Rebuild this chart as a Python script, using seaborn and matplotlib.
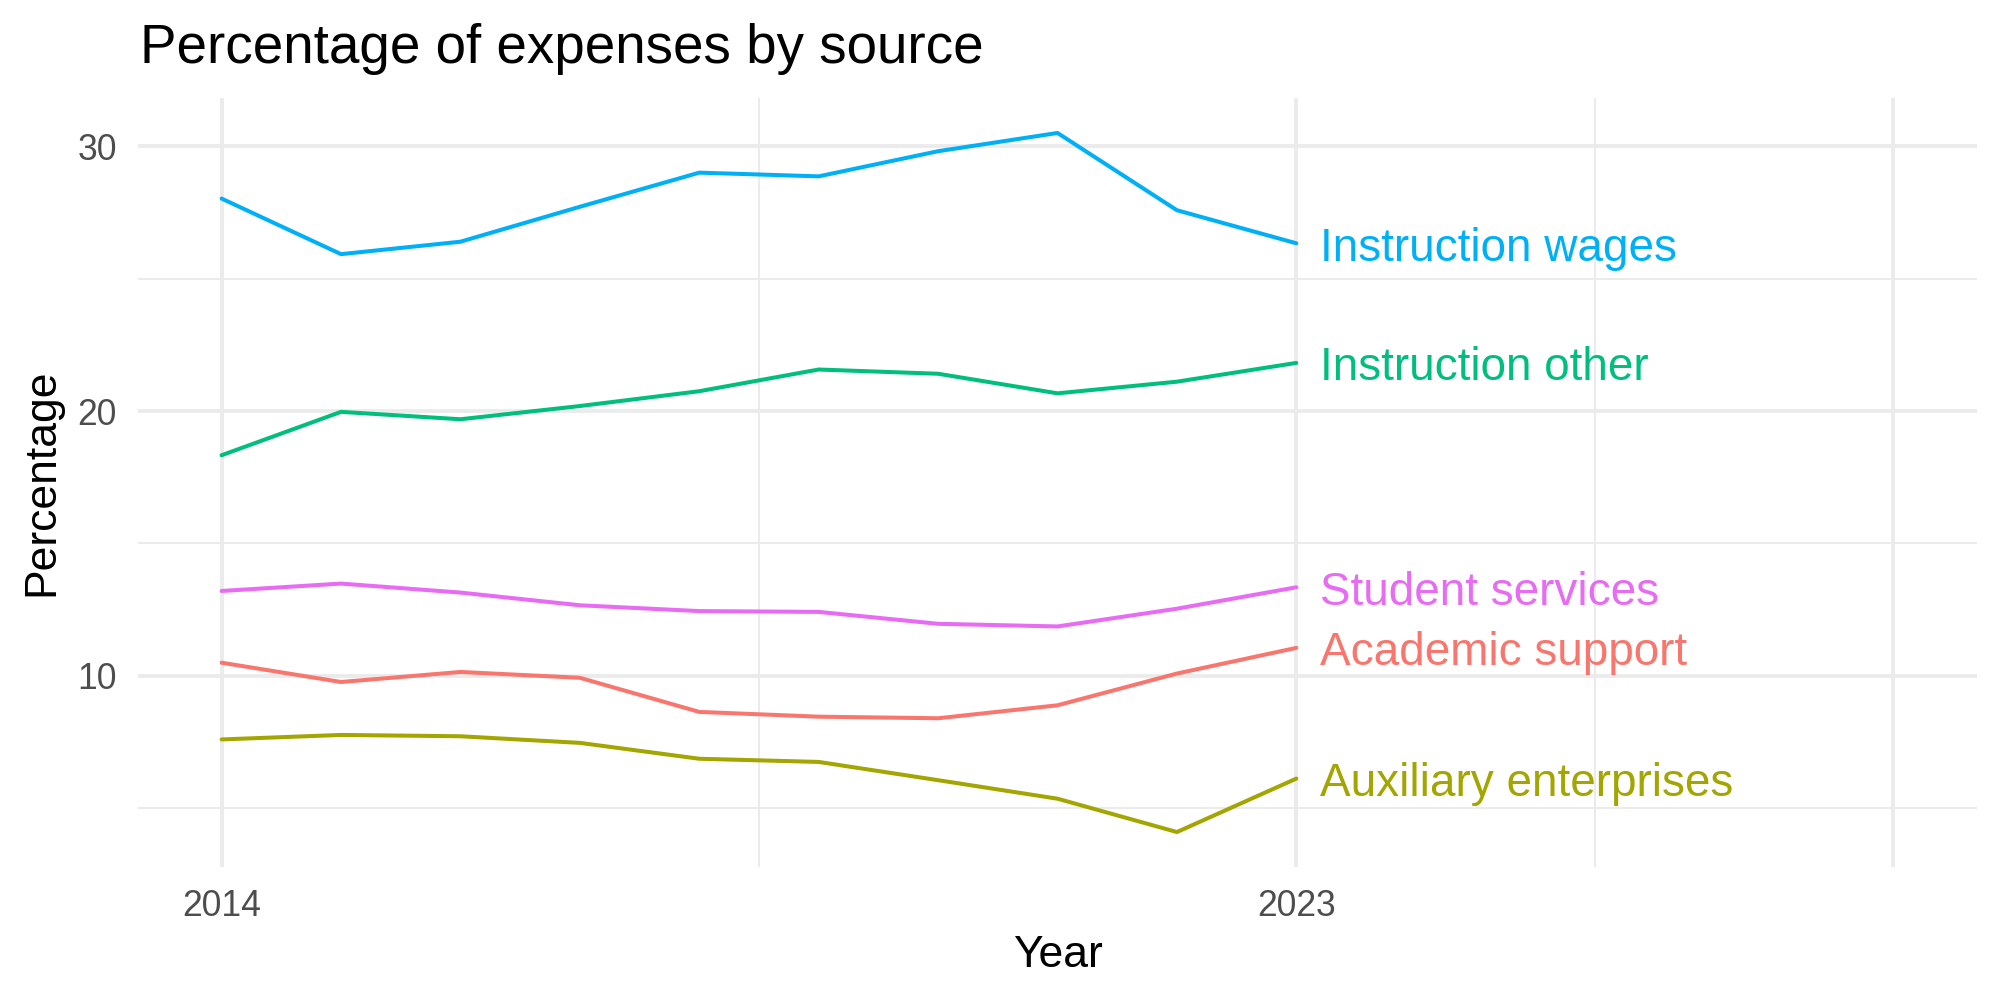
import numpy as np
import pandas as pd
import matplotlib
matplotlib.use("Agg")
import matplotlib.pyplot as plt
import matplotlib.transforms as mtransforms
import seaborn as sns

years = [2014, 2015, 2016, 2017, 2018, 2019, 2020, 2021, 2022, 2023]
instruction_wages = [28.03, 25.93, 26.40, 27.72, 29.01, 28.87, 29.82, 30.51, 27.59, 26.34]
instruction_other = [18.33, 19.97, 19.69, 20.19, 20.75, 21.57, 21.41, 20.67, 21.11, 21.82]
student_services = [13.20, 13.48, 13.14, 12.66, 12.44, 12.41, 11.96, 11.86, 12.53, 13.34]
academic_support = [10.49, 9.76, 10.14, 9.92, 8.63, 8.45, 8.39, 8.88, 10.08, 11.05]
auxiliary_enterprises = [7.59, 7.76, 7.71, 7.46, 6.86, 6.74, 6.05, 5.35, 4.09, 6.11]

categories = ["Academic support", "Auxiliary enterprises", "Instruction other",
              "Instruction wages", "Student services"]
colors = ["#F8766D", "#A3A500", "#00BF7D", "#00B0F6", "#E76BF3"]
series = {
    "Academic support": academic_support,
    "Auxiliary enterprises": auxiliary_enterprises,
    "Instruction other": instruction_other,
    "Instruction wages": instruction_wages,
    "Student services": student_services,
}
x_major = [2014, 2023, 2028]
x_labels = ["2014", "2023", ""]
x_minor = [2018.5, 2025.5]
y_major = [10, 20, 30]
y_minor = [5, 15, 25]

df = pd.DataFrame(
    [(y, v, k) for k in categories for y, v in zip(years, series[k])],
    columns=["Year", "Percentage", "Source"],
)

sns.set_theme(style="white")
plt.rcParams["font.family"] = ["Liberation Sans", "DejaVu Sans"]

fig = plt.figure(figsize=(10, 5), dpi=200)
ax = fig.add_axes([138 / 2000, 1 - 867 / 1000, (1977 - 138) / 2000, (867 - 98) / 1000])

sns.lineplot(data=df, x="Year", y="Percentage", hue="Source", hue_order=categories,
             palette=dict(zip(categories, colors)), linewidth=1.45, legend=False, ax=ax,
             zorder=3)

label_tr = mtransforms.offset_copy(ax.transData, fig=fig, x=0, y=-6.3, units="points")
for cat, col in zip(categories, colors):
    ax.text(years[-1] + 0.2, series[cat][-1], cat, color=col, fontsize=16.5,
            ha="left", va="baseline", zorder=4, transform=label_tr)

x0, x1 = 2014, 2028
ax.set_xlim(x0 - 0.05 * (x1 - x0), x1 + 0.05 * (x1 - x0))
allv = np.concatenate([np.array(v) for v in series.values()])
lo, hi = allv.min(), allv.max()
ax.set_ylim(lo - 0.05 * (hi - lo), hi + 0.05 * (hi - lo))

ax.set_xticks(x_major)
ax.set_xticklabels(x_labels)
ax.set_xticks(x_minor, minor=True)
ax.set_yticks(y_major)
ax.set_yticklabels([str(v) for v in y_major])
ax.set_yticks(y_minor, minor=True)
ax.grid(which="major", color="#EBEBEB", linewidth=1.4)
ax.grid(which="minor", color="#EBEBEB", linewidth=0.7)
ax.set_axisbelow(True)
for s in ax.spines.values():
    s.set_visible(False)
ax.tick_params(axis="both", which="both", length=0, labelsize=12.8, labelcolor="#4D4D4D")
ax.tick_params(axis="x", pad=8.0)
ax.tick_params(axis="y", pad=7.6)
ax.set_xlabel("")
ax.set_ylabel("")

fig.text(140 / 2000, 1 - 63 / 1000, "Percentage of expenses by source", fontsize=19.7,
         color="black", ha="left", va="baseline")
fig.text(1057.5 / 2000, 1 - 967 / 1000, "Year", fontsize=16, color="black",
         ha="center", va="baseline")
fig.text(42 / 2000, 1 - 482.5 / 1000, "Percentage", fontsize=16, color="black",
         ha="center", va="center", rotation=90)

fig.savefig("out.png", dpi=200, facecolor="white")
